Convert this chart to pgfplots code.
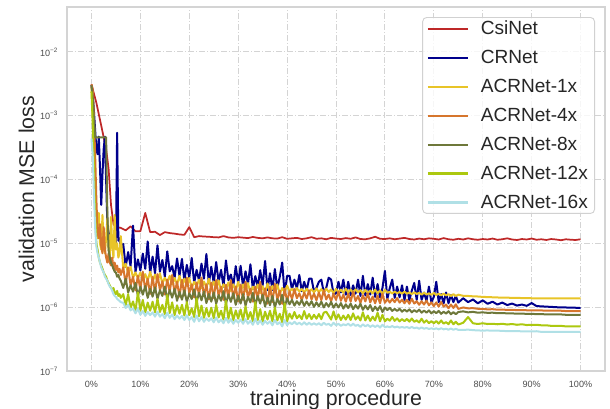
\documentclass[border=0pt]{standalone}
\usepackage{pgfplots}
\pgfplotsset{compat=1.18}
\usepackage{pgfplotstable}
\usepackage{fontspec}
\setmainfont{Liberation Sans}
\usetikzlibrary{calc}

\definecolor{colCsi}{RGB}{190,40,40}
\definecolor{colCR}{RGB}{0,0,140}
\definecolor{colOne}{RGB}{232,196,40}
\definecolor{colFour}{RGB}{214,118,45}
\definecolor{colEight}{RGB}{110,120,58}
\definecolor{colTwelve}{RGB}{172,200,15}
\definecolor{colSixteen}{RGB}{176,224,230}
\definecolor{gridc}{RGB}{212,212,212}

\pgfplotstableread{
x v
0 3.1e-3
1 1.6e-3
2 7.0e-4
3 3.0e-4
3.5 1.5e-4
4 4.0e-5
4.5 2.0e-5
5 1.8e-5
6 1.75e-5
7 1.6e-5
8 1.85e-5
9 1.55e-5
10 1.55e-5
11 3.0e-5
12 1.5e-5
13 1.52e-5
14 1.35e-5
15 1.5e-5
16 1.45e-5
17 1.42e-5
18 1.38e-5
19 1.36e-5
20 1.8e-5
21 1.25e-5
22 1.3e-5
23 1.28e-5
24 1.27e-5
25 1.25e-5
26 1.24e-5
27 1.3e-5
28 1.24e-5
29 1.22e-5
30 1.25e-5
31 1.23e-5
32 1.21e-5
33 1.26e-5
34 1.22e-5
35 1.2e-5
36 1.24e-5
37 1.2e-5
38 1.19e-5
39 1.25e-5
40 1.18e-5
41 1.2e-5
42 1.22e-5
43 1.17e-5
44 1.2e-5
45 1.25e-5
46 1.18e-5
47 1.2e-5
48 1.16e-5
49 1.22e-5
50 1.19e-5
51 1.17e-5
52 1.21e-5
53 1.18e-5
54 1.24e-5
55 1.17e-5
56 1.16e-5
57 1.2e-5
58 1.27e-5
59 1.18e-5
60 1.17e-5
61 1.2e-5
62 1.16e-5
63 1.19e-5
64 1.22e-5
65 1.17e-5
66 1.15e-5
67 1.19e-5
68 1.16e-5
69 1.2e-5
70 1.18e-5
71 1.15e-5
72 1.21e-5
73 1.16e-5
74 1.14e-5
75 1.18e-5
76 1.15e-5
77 1.2e-5
78 1.16e-5
79 1.14e-5
80 1.17e-5
81 1.15e-5
82 1.19e-5
83 1.14e-5
84 1.16e-5
85 1.2e-5
86 1.15e-5
87 1.13e-5
88 1.17e-5
89 1.15e-5
90 1.19e-5
91 1.14e-5
92 1.16e-5
93 1.13e-5
94 1.17e-5
95 1.15e-5
96 1.12e-5
97 1.16e-5
98 1.14e-5
99 1.13e-5
100 1.16e-5
}\csidata

\pgfplotstableread{
x cr a1 a4 a8 a12 a16
0 3.0e-3 2.8e-3 3.1e-3 3.0e-3 2.4e-3 4.4e-4
0.25 2.2e-3 1.2e-3 2.6e-3 2.0e-3 8.0e-4 2.5e-4
0.5 1.2e-3 3.0e-4 1.0e-3 9.0e-4 1.5e-4 6.0e-5
0.75 6.0e-4 6.0e-5 2.5e-4 4.6e-4 3.0e-5 1.8e-5
1 3.0e-4 1.5e-5 5.0e-5 4.6e-4 1.0e-5 9.0e-6
1.25 2.5e-4 1.2e-5 1.5e-5 4.6e-4 8.0e-6 7.0e-6
1.5 4.7e-4 3.0e-5 1.2e-5 4.6e-4 6.0e-6 6.0e-6
1.75 1.5e-4 1.0e-5 2.0e-5 4.6e-4 5.0e-6 5.0e-6
2 4.0e-5 8.0e-6 9.0e-6 4.6e-4 4.5e-6 4.2e-6
2.25 1.2e-4 2.8e-5 7.0e-6 4.6e-4 4.0e-6 3.8e-6
2.5 3.0e-4 9.0e-6 1.8e-5 4.6e-4 3.5e-6 3.5e-6
2.75 4.7e-4 7.0e-6 8.0e-6 4.6e-4 3.2e-6 3.0e-6
3 1.0e-4 1.2e-5 6.0e-6 4.6e-4 3.0e-6 2.8e-6
3.25 2.0e-5 2.5e-5 5.0e-6 3.0e-5 2.6e-6 2.6e-6
3.5 1.5e-5 8.0e-6 7.0e-6 8.0e-6 2.4e-6 2.3e-6
3.75 1.2e-5 6.0e-6 5.0e-6 6.0e-6 2.2e-6 2.1e-6
4 1.4e-5 2.6e-5 4.5e-6 5.0e-6 2.0e-6 2.0e-6
4.25 1.0e-5 9.0e-6 6.0e-6 4.5e-6 1.9e-6 1.8e-6
4.5 1.3e-5 6.0e-6 4.0e-6 4.0e-6 2.0e-6 1.6e-6
4.75 1.1e-5 2.8e-5 5.0e-6 3.6e-6 1.7e-6 1.5e-6
5 9.0e-6 8.0e-6 3.8e-6 3.5e-6 1.6e-6 1.45e-6
5.25 5.4e-4 1.0e-5 4.5e-6 3.0e-6 1.8e-6 1.35e-6
5.5 1.1e-5 6.0e-6 3.5e-6 3.2e-6 1.5e-6 1.3e-6
5.75 1.2e-5 7.0e-6 4.0e-6 2.8e-6 1.6e-6 1.25e-6
6 8.0e-6 1.3e-5 3.2e-6 2.6e-6 1.4e-6 1.2e-6
6.5 9.8e-6 4.0e-6 4.2e-6 2.0e-6 1.6e-6 1.17e-6
7 4.3e-6 4.8e-6 2.3e-6 2.8e-6 1.07e-6 0.97e-6
7.5 7.3e-6 3.4e-6 4.2e-6 1.7e-6 1.6e-6 1.1e-6
8 4.4e-6 4.3e-6 2.2e-6 2.2e-6 0.98e-6 0.89e-6
8.5 19e-6 2.9e-6 3.0e-6 1.75e-6 1.23e-6 0.96e-6
9 3.6e-6 3.5e-6 1.84e-6 2.4e-6 0.88e-6 0.80e-6
9.5 5.6e-6 2.85e-6 3.1e-6 1.5e-6 1.7e-6 0.95e-6
10 3.75e-6 3.5e-6 1.9e-6 2.1e-6 0.88e-6 0.76e-6
10.5 6.9e-6 2.6e-6 3.6e-6 1.57e-6 1.3e-6 0.87e-6
11 4.0e-6 3.3e-6 1.84e-6 2.15e-6 0.83e-6 0.73e-6
11.5 10.7e-6 2.6e-6 2.8e-6 1.4e-6 1.18e-6 0.84e-6
12 3.4e-6 3.6e-6 1.62e-6 1.95e-6 0.88e-6 0.75e-6
12.5 6.2e-6 2.5e-6 3.0e-6 1.46e-6 1.22e-6 0.83e-6
13 3.4e-6 3.25e-6 1.71e-6 2.05e-6 0.83e-6 0.71e-6
13.5 9.3e-6 2.5e-6 3.3e-6 1.35e-6 1.35e-6 0.85e-6
14 3.6e-6 3.4e-6 1.84e-6 1.85e-6 0.84e-6 0.71e-6
14.5 5.5e-6 2.35e-6 2.55e-6 1.5e-6 1.09e-6 0.78e-6
15 3.0e-6 2.9e-6 1.58e-6 2.1e-6 0.78e-6 0.67e-6
15.5 7.5e-6 2.45e-6 2.7e-6 1.34e-6 1.55e-6 0.82e-6
16 3.65e-6 3.1e-6 1.73e-6 1.86e-6 0.81e-6 0.68e-6
16.5 4.4e-6 2.26e-6 3.2e-6 1.41e-6 1.19e-6 0.77e-6
17 2.9e-6 2.87e-6 1.65e-6 1.94e-6 0.75e-6 0.65e-6
17.5 5.8e-6 2.28e-6 2.5e-6 1.26e-6 1.07e-6 0.74e-6
18 3.1e-6 3.1e-6 1.46e-6 1.75e-6 0.79e-6 0.66e-6
18.5 5.7e-6 2.16e-6 2.7e-6 1.31e-6 1.09e-6 0.73e-6
19 2.6e-6 2.8e-6 1.53e-6 1.84e-6 0.74e-6 0.63e-6
19.5 4.6e-6 2.15e-6 2.9e-6 1.21e-6 1.2e-6 0.75e-6
20 2.9e-6 2.87e-6 1.64e-6 1.65e-6 0.75e-6 0.63e-6
20.5 5.9e-6 2.0e-6 2.28e-6 1.34e-6 0.96e-6 0.70e-6
21 2.4e-6 2.5e-6 1.42e-6 1.9e-6 0.70e-6 0.59e-6
21.5 3.85e-6 2.12e-6 2.44e-6 1.2e-6 1.38e-6 0.74e-6
22 2.6e-6 2.7e-6 1.55e-6 1.69e-6 0.72e-6 0.60e-6
22.5 4.8e-6 1.98e-6 2.9e-6 1.28e-6 1.06e-6 0.70e-6
23 2.8e-6 2.53e-6 1.49e-6 1.77e-6 0.68e-6 0.59e-6
23.5 6.8e-6 2.02e-6 2.28e-6 1.16e-6 0.97e-6 0.67e-6
24 2.35e-6 2.8e-6 1.32e-6 1.61e-6 0.71e-6 0.61e-6
24.5 4.3e-6 1.95e-6 2.42e-6 1.22e-6 0.98e-6 0.67e-6
25 2.4e-6 2.53e-6 1.39e-6 1.7e-6 0.67e-6 0.58e-6
25.5 5.1e-6 1.96e-6 2.67e-6 1.13e-6 1.09e-6 0.69e-6
26 2.5e-6 2.64e-6 1.5e-6 1.55e-6 0.69e-6 0.58e-6
26.5 3.85e-6 1.84e-6 2.1e-6 1.26e-6 0.88e-6 0.64e-6
27 2.1e-6 2.29e-6 1.3e-6 1.78e-6 0.64e-6 0.56e-6
27.5 5.4e-6 1.93e-6 2.25e-6 1.13e-6 1.26e-6 0.68e-6
28 2.65e-6 2.45e-6 1.43e-6 1.59e-6 0.66e-6 0.57e-6
28.5 3.25e-6 1.79e-6 2.67e-6 1.21e-6 0.98e-6 0.65e-6
29 2.15e-6 2.28e-6 1.38e-6 1.66e-6 0.62e-6 0.55e-6
29.5 4.4e-6 1.82e-6 2.11e-6 1.09e-6 0.89e-6 0.63e-6
30 2.4e-6 2.5e-6 1.23e-6 1.51e-6 0.66e-6 0.57e-6
30.5 4.45e-6 1.75e-6 2.26e-6 1.14e-6 0.92e-6 0.64e-6
31 2.06e-6 2.28e-6 1.3e-6 1.6e-6 0.62e-6 0.55e-6
31.5 3.65e-6 1.77e-6 2.5e-6 1.06e-6 1.03e-6 0.65e-6
32 2.3e-6 2.39e-6 1.4e-6 1.45e-6 0.65e-6 0.55e-6
32.5 4.7e-6 1.68e-6 1.96e-6 1.19e-6 0.84e-6 0.61e-6
33 1.92e-6 2.1e-6 1.22e-6 1.68e-6 0.60e-6 0.53e-6
33.5 3.07e-6 1.78e-6 2.1e-6 1.07e-6 1.2e-6 0.66e-6
34 2.07e-6 2.27e-6 1.34e-6 1.5e-6 0.63e-6 0.54e-6
34.5 3.8e-6 1.66e-6 2.5e-6 1.14e-6 0.93e-6 0.62e-6
35 2.2e-6 2.13e-6 1.29e-6 1.56e-6 0.59e-6 0.53e-6
35.5 5.3e-6 1.71e-6 1.97e-6 1.02e-6 0.85e-6 0.61e-6
36 1.85e-6 2.36e-6 1.14e-6 1.41e-6 0.64e-6 0.55e-6
36.5 3.4e-6 1.66e-6 2.1e-6 1.07e-6 0.88e-6 0.60e-6
37 1.86e-6 2.16e-6 1.21e-6 1.5e-6 0.60e-6 0.52e-6
37.5 3.95e-6 1.69e-6 2.32e-6 0.99e-6 0.99e-6 0.63e-6
38 1.97e-6 2.28e-6 1.3e-6 1.35e-6 0.62e-6 0.54e-6
38.5 3.0e-6 1.61e-6 1.82e-6 1.1e-6 0.79e-6 0.58e-6
39 5.0e-6 2.0e-6 1.13e-6 1.56e-6 0.58e-6 0.50e-6
39.5 1.6e-6 1.71e-6 1.95e-6 0.99e-6 1.15e-6 0.63e-6
40 3.1e-6 2.18e-6 1.24e-6 1.38e-6 0.60e-6 0.52e-6
40.5 3.1e-6 1.76e-6 1.78e-6 1.11e-6 0.79e-6 0.58e-6
41 1.9e-6 1.95e-6 1.34e-6 1.3e-6 0.66e-6 0.54e-6
41.5 2.7e-6 1.73e-6 1.92e-6 1.06e-6 0.84e-6 0.59e-6
42 1.97e-6 1.99e-6 1.38e-6 1.24e-6 0.67e-6 0.54e-6
42.5 3.2e-6 1.76e-6 1.65e-6 1.09e-6 0.75e-6 0.57e-6
43 1.78e-6 1.92e-6 1.29e-6 1.3e-6 0.65e-6 0.53e-6
43.5 2.5e-6 1.7e-6 1.7e-6 1.05e-6 0.87e-6 0.58e-6
44 1.84e-6 1.95e-6 1.36e-6 1.23e-6 0.66e-6 0.53e-6
44.5 2.8e-6 1.73e-6 1.84e-6 1.06e-6 0.78e-6 0.57e-6
45 2.8e-6 1.91e-6 1.32e-6 1.24e-6 0.65e-6 0.53e-6
45.5 1.75e-6 1.71e-6 1.64e-6 1.01e-6 0.76e-6 0.56e-6
46 2.0e-6 1.97e-6 1.28e-6 1.19e-6 0.66e-6 0.53e-6
46.5 2.5e-6 1.72e-6 1.71e-6 1.03e-6 0.78e-6 0.56e-6
47 2.7e-6 1.92e-6 1.29e-6 1.22e-6 0.65e-6 0.52e-6
47.5 1.7e-6 1.7e-6 1.84e-6 0.99e-6 0.82e-6 0.57e-6
48 2.0e-6 1.95e-6 1.32e-6 1.16e-6 0.85e-6 0.53e-6
48.5 2.9e-6 1.73e-6 1.58e-6 1.02e-6 0.74e-6 0.55e-6
49 2.7e-6 1.89e-6 1.24e-6 1.21e-6 0.64e-6 0.51e-6
49.5 1.6e-6 1.67e-6 1.63e-6 0.98e-6 0.86e-6 0.57e-6
50 1.64e-6 1.93e-6 1.3e-6 1.14e-6 0.64e-6 0.52e-6
50.5 2.5e-6 1.71e-6 1.76e-6 0.99e-6 0.77e-6 0.55e-6
51 1.7e-6 1.88e-6 1.26e-6 1.16e-6 0.63e-6 0.51e-6
51.5 2.7e-6 1.68e-6 1.57e-6 0.95e-6 0.74e-6 0.54e-6
52 1.57e-6 1.95e-6 1.22e-6 1.11e-6 0.64e-6 0.52e-6
52.5 2.5e-6 1.7e-6 1.63e-6 0.97e-6 0.76e-6 0.55e-6
53 1.55e-6 1.89e-6 1.22e-6 1.14e-6 0.63e-6 0.51e-6
53.5 2.2e-6 1.67e-6 1.75e-6 0.93e-6 0.80e-6 0.55e-6
54 1.63e-6 1.91e-6 1.25e-6 1.08e-6 0.64e-6 0.51e-6
54.5 2.7e-6 1.7e-6 1.5e-6 0.95e-6 0.72e-6 0.53e-6
55 1.5e-6 1.85e-6 1.17e-6 1.13e-6 0.62e-6 0.49e-6
55.5 3.1e-6 1.64e-6 1.54e-6 0.91e-6 0.83e-6 0.54e-6
56 1.53e-6 1.87e-6 1.23e-6 1.06e-6 0.62e-6 0.50e-6
56.5 2.3e-6 1.66e-6 1.65e-6 0.92e-6 0.74e-6 0.53e-6
57 1.58e-6 1.83e-6 1.19e-6 1.08e-6 0.61e-6 0.49e-6
57.5 2.9e-6 1.64e-6 1.47e-6 0.87e-6 0.71e-6 0.52e-6
58 1.45e-6 1.89e-6 1.15e-6 1.02e-6 0.62e-6 0.49e-6
58.5 2.3e-6 1.64e-6 1.52e-6 0.89e-6 0.82e-6 0.52e-6
59 1.42e-6 1.83e-6 1.15e-6 1.04e-6 0.60e-6 0.48e-6
59.5 2.0e-6 1.62e-6 1.63e-6 0.84e-6 0.76e-6 0.53e-6
60 3.7e-6 1.86e-6 1.17e-6 0.99e-6 0.60e-6 0.485e-6
60.5 1.35e-6 1.68e-6 1.34e-6 0.90e-6 0.66e-6 0.50e-6
61 2.0e-6 1.75e-6 1.18e-6 0.975e-6 0.615e-6 0.484e-6
61.5 2.7e-6 1.64e-6 1.35e-6 0.874e-6 0.705e-6 0.506e-6
62 1.4e-6 1.755e-6 1.2e-6 0.94e-6 0.61e-6 0.482e-6
62.5 2.1e-6 1.65e-6 1.39e-6 0.873e-6 0.667e-6 0.497e-6
63 1.43e-6 1.726e-6 1.18e-6 0.945e-6 0.60e-6 0.478e-6
63.5 2.2e-6 1.63e-6 1.31e-6 0.85e-6 0.65e-6 0.49e-6
64 1.3e-6 1.75e-6 1.15e-6 0.917e-6 0.604e-6 0.477e-6
64.5 2.1e-6 1.62e-6 1.31e-6 0.854e-6 0.654e-6 0.489e-6
65 1.28e-6 1.71e-6 1.13e-6 0.924e-6 0.595e-6 0.47e-6
65.5 1.82e-6 1.6e-6 1.36e-6 0.832e-6 0.665e-6 0.49e-6
66 2.4e-6 1.71e-6 1.14e-6 0.898e-6 0.59e-6 0.469e-6
66.5 1.3e-6 1.61e-6 1.24e-6 0.842e-6 0.623e-6 0.479e-6
67 2.6e-6 1.68e-6 1.09e-6 0.916e-6 0.577e-6 0.46e-6
67.5 1.3e-6 1.57e-6 1.24e-6 0.82e-6 0.66e-6 0.482e-6
68 1.7e-6 1.68e-6 1.1e-6 0.886e-6 0.572e-6 0.459e-6
68.5 1.25e-6 1.58e-6 1.27e-6 0.822e-6 0.622e-6 0.473e-6
69 2.1e-6 1.65e-6 1.07e-6 0.89e-6 0.562e-6 0.455e-6
69.5 1.2e-6 1.56e-6 1.19e-6 0.80e-6 0.604e-6 0.467e-6
70 1.45e-6 1.67e-6 1.04e-6 0.865e-6 0.56e-6 0.453e-6
70.5 2.5e-6 1.55e-6 1.19e-6 0.807e-6 0.607e-6 0.466e-6
71 1.2e-6 1.63e-6 1.02e-6 0.874e-6 0.553e-6 0.449e-6
71.5 1.6e-6 1.53e-6 1.21e-6 0.787e-6 0.62e-6 0.468e-6
72 1.15e-6 1.63e-6 1.02e-6 0.849e-6 0.552e-6 0.449e-6
72.5 1.7e-6 1.53e-6 1.1e-6 0.795e-6 0.584e-6 0.46e-6
73 1.15e-6 1.6e-6 0.964e-6 0.865e-6 0.542e-6 0.443e-6
73.5 1.55e-6 1.5e-6 1.1e-6 0.775e-6 0.62e-6 0.464e-6
74 1.2e-6 1.6e-6 0.973e-6 0.836e-6 0.541e-6 0.443e-6
74.5 1.5e-6 1.5e-6 1.11e-6 0.776e-6 0.59e-6 0.458e-6
75 1.18e-6 1.57e-6 0.94e-6 0.84e-6 0.535e-6 0.441e-6
76 1.38e-6 1.51e-6 0.99e-6 0.86e-6 0.57e-6 0.44e-6
77 1.2e-6 1.50e-6 0.96e-6 0.83e-6 0.70e-6 0.445e-6
78 1.32e-6 1.48e-6 0.965e-6 0.845e-6 0.56e-6 0.437e-6
79 1.15e-6 1.47e-6 0.945e-6 0.82e-6 0.545e-6 0.432e-6
80 1.28e-6 1.45e-6 0.94e-6 0.83e-6 0.56e-6 0.43e-6
81 1.13e-6 1.44e-6 0.925e-6 0.815e-6 0.545e-6 0.432e-6
82 1.22e-6 1.43e-6 0.93e-6 0.82e-6 0.55e-6 0.428e-6
83 1.1e-6 1.42e-6 0.915e-6 0.805e-6 0.54e-6 0.43e-6
84 1.18e-6 1.41e-6 0.92e-6 0.81e-6 0.55e-6 0.424e-6
85 1.08e-6 1.41e-6 0.905e-6 0.80e-6 0.535e-6 0.423e-6
86 1.14e-6 1.40e-6 0.91e-6 0.80e-6 0.545e-6 0.42e-6
87 1.06e-6 1.40e-6 0.90e-6 0.79e-6 0.53e-6 0.421e-6
88 1.1e-6 1.39e-6 0.90e-6 0.795e-6 0.54e-6 0.419e-6
89 1.05e-6 1.39e-6 0.895e-6 0.785e-6 0.525e-6 0.418e-6
90 1.16e-6 1.38e-6 0.89e-6 0.785e-6 0.53e-6 0.417e-6
91 1.04e-6 1.38e-6 0.89e-6 0.78e-6 0.53e-6 0.42e-6
92 1.03e-6 1.38e-6 0.89e-6 0.78e-6 0.52e-6 0.41e-6
93 1.02e-6 1.38e-6 0.88e-6 0.77e-6 0.52e-6 0.41e-6
94 1.01e-6 1.37e-6 0.88e-6 0.77e-6 0.51e-6 0.41e-6
95 1.0e-6 1.37e-6 0.88e-6 0.77e-6 0.51e-6 0.41e-6
96 0.99e-6 1.37e-6 0.88e-6 0.77e-6 0.51e-6 0.41e-6
97 0.99e-6 1.37e-6 0.87e-6 0.76e-6 0.50e-6 0.41e-6
98 0.98e-6 1.37e-6 0.87e-6 0.76e-6 0.50e-6 0.41e-6
99 0.98e-6 1.37e-6 0.87e-6 0.76e-6 0.50e-6 0.41e-6
100 0.97e-6 1.37e-6 0.87e-6 0.76e-6 0.50e-6 0.41e-6
}\maindata

\begin{document}
\begin{tikzpicture}
\begin{axis}[
  name=ax,
  scale only axis, width=403.5pt, height=273pt,
  ymode=log, xmin=-5, xmax=105, ymin=1e-7, ymax=0.0506,
  xtick={0,10,20,30,40,50,60,70,80,90,100},
  xticklabels={0\%,10\%,20\%,30\%,40\%,50\%,60\%,70\%,80\%,90\%,100\%},
  ytick={1e-7,1e-6,1e-5,1e-4,1e-3,1e-2},
  yticklabels={10\textsuperscript{−7},10\textsuperscript{−6},10\textsuperscript{−5},10\textsuperscript{−4},10\textsuperscript{−3},10\textsuperscript{−2}},
  major tick length=0pt, minor tick length=0pt,
  grid=major,
  major grid style={draw=gridc, line width=0.75pt, dash pattern=on 4.5pt off 1.5pt on 0.75pt off 1.5pt},
  axis line style={draw=black!17, line width=0.9pt},
  tick label style={font=\fontsize{6.8}{8}\selectfont, text=black!70},
  xticklabel style={anchor=base, inner sep=0pt, yshift=-12pt},
  yticklabel style={anchor=east, inner sep=0pt, xshift=-6.5pt},
  xlabel={training procedure},
  ylabel={validation MSE loss},
  label style={font=\fontsize{16}{19}\selectfont, text=black!85},
  xlabel style={at={(axis description cs:0.5,-0.0948)}, anchor=base},
  ylabel style={at={(axis description cs:-0.0613,0.5)}, anchor=base},
  legend style={at={(0.9814,0.9725)}, anchor=north east, draw=black!18, line width=0.7pt,
    rounded corners=3pt, fill=white, fill opacity=0.8, draw opacity=1, text opacity=1,
    font=\fontsize{14.3}{17}\selectfont, text=black!85,
    inner xsep=3pt, inner ysep=0.5pt, row sep=6.2pt, column sep=7pt},
  legend cell align=left,
  legend image code/.code={\draw[#1, line width=1.6pt, rounded corners=0pt] (0pt,0pt) -- (30pt,0pt);},
  every axis plot/.append style={line join=round},
]
\addplot[colCsi, line width=1.3pt] table[x=x, y=v] {\csidata};
\addlegendentry{CsiNet}
\addplot[colCR, line width=1.5pt] table[x=x, y=cr] {\maindata};
\addlegendentry{CRNet}
\addplot[colOne, line width=1.5pt] table[x=x, y=a1] {\maindata};
\addlegendentry{ACRNet-1x}
\addplot[colFour, line width=1.5pt] table[x=x, y=a4] {\maindata};
\addlegendentry{ACRNet-4x}
\addplot[colEight, line width=1.5pt] table[x=x, y=a8] {\maindata};
\addlegendentry{ACRNet-8x}
\addplot[colTwelve, line width=1.5pt] table[x=x, y=a12] {\maindata};
\addlegendentry{ACRNet-12x}
\addplot[colSixteen, line width=1.5pt] table[x=x, y=a16] {\maindata};
\addlegendentry{ACRNet-16x}
\end{axis}
\pgfresetboundingbox
\path[use as bounding box] ($(ax.south west)+(-50.25pt,-28.5pt)$) rectangle ($(ax.north east)+(3.75pt,5.25pt)$);
\end{tikzpicture}
\end{document}
